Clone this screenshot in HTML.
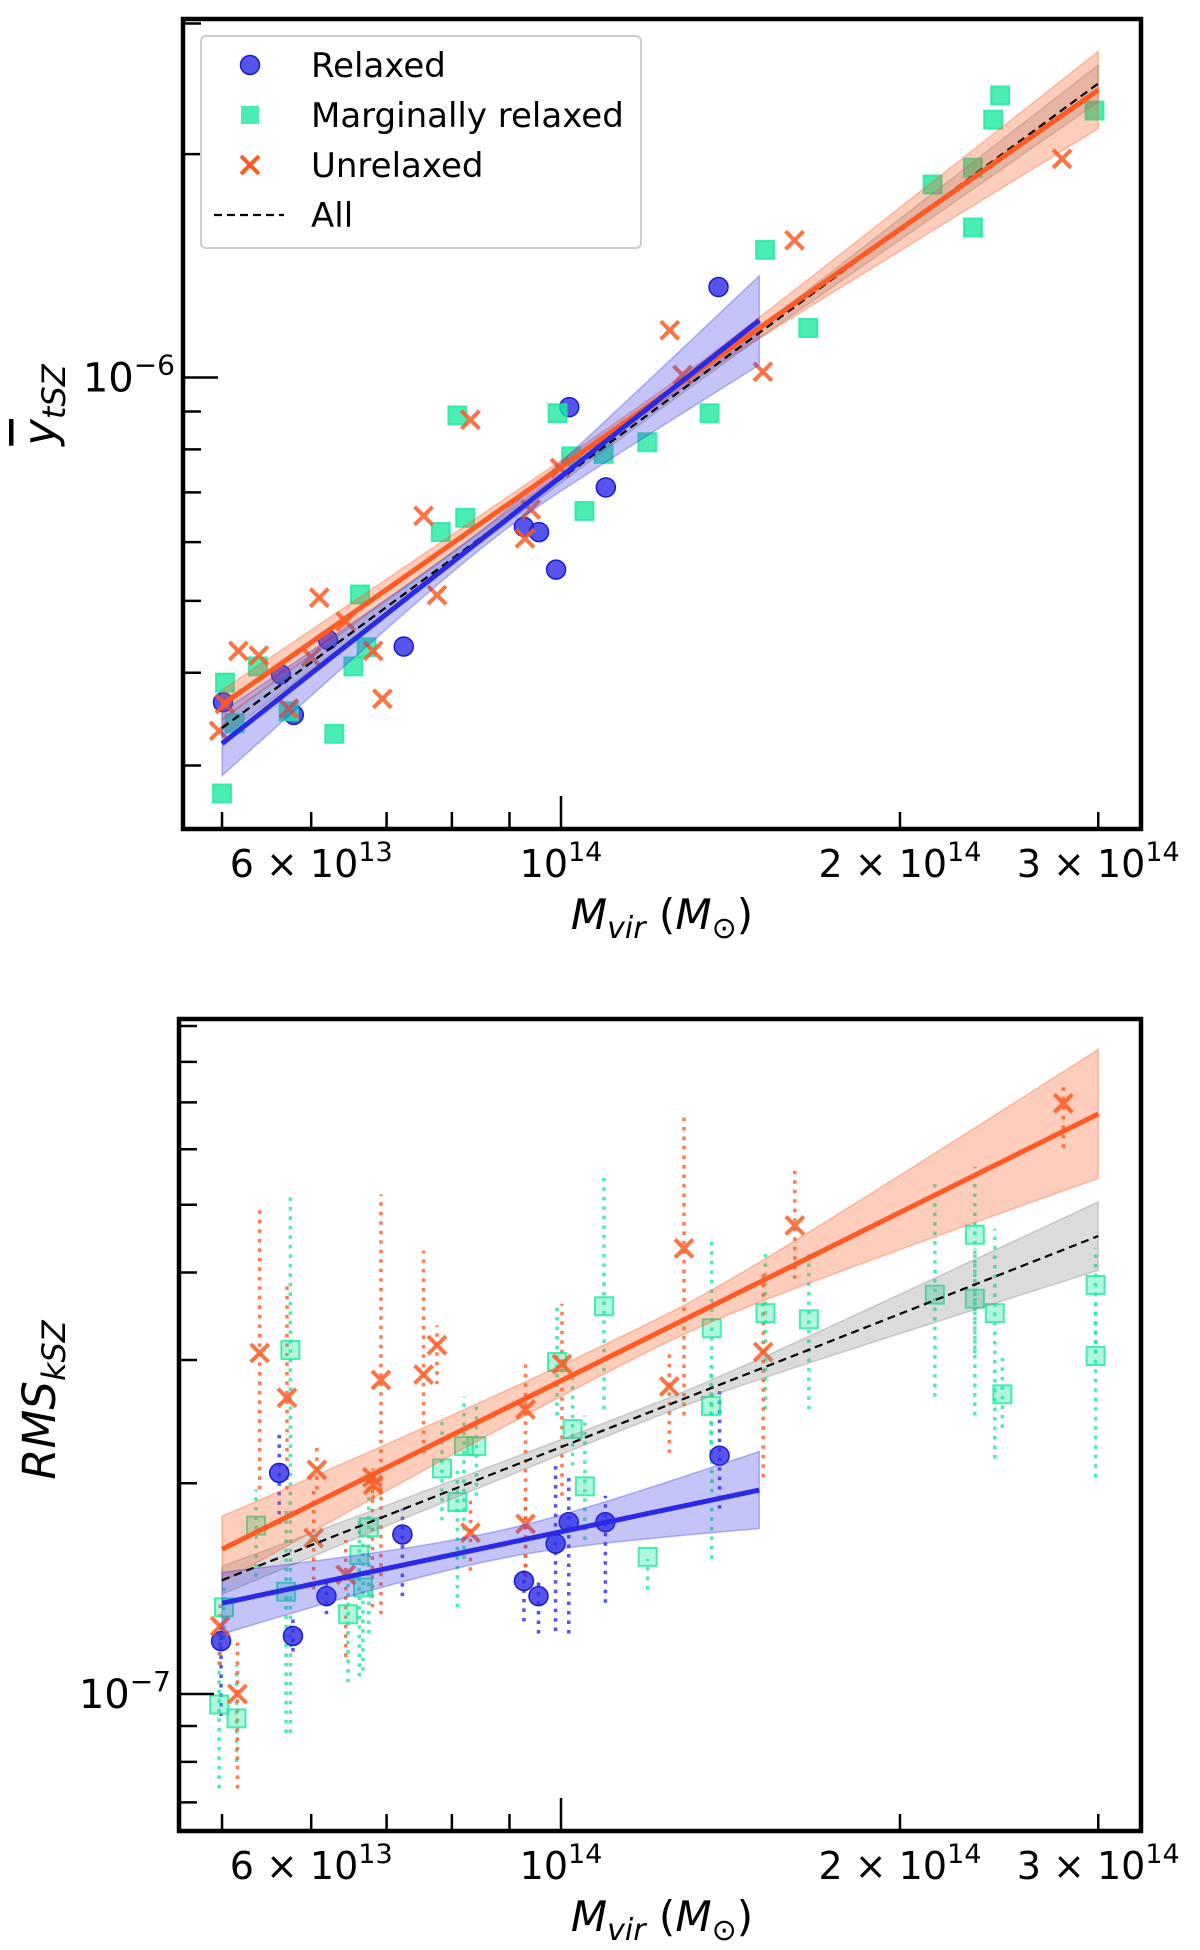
<!DOCTYPE html>
<html><head><meta charset="utf-8"><style>
html,body{margin:0;padding:0;background:#fff;}
svg{display:block;font-family:"DejaVu Sans","Liberation Sans",sans-serif;}
</style></head><body>
<svg id="fig" width="1200" height="1950" viewBox="0 0 1200 1950" xmlns="http://www.w3.org/2000/svg">
<rect width="1200" height="1950" fill="#fff"/>
<g id="top"></g>
<g id="bot"></g>
</svg>
<script>
// ---------- data (mass in 1e13 Msun, values in 1e-7) ----------
const tRelM = [5.01,5.79,5.64,6.21,7.25,9.27,9.56,9.9,10.17,10.96,13.8];
const tRelV = [3.65,3.51,3.98,4.43,4.34,6.29,6.19,5.51,9.12,7.11,13.24];
const tMarM = [5.03,5.0,5.13,5.38,5.73,6.29,6.54,6.63,6.72,7.82,8.09,8.22,9.93,10.21,10.49,10.91,11.93,13.55,15.18,16.58,21.38,23.22,23.22,24.2,24.55,29.77];
const tMarV = [3.88,2.75,3.42,4.08,3.55,3.31,4.08,5.10,4.33,6.19,8.89,6.47,8.95,7.83,6.61,7.89,8.18,8.95,14.86,11.66,18.2,19.18,15.93,22.26,24.0,22.9];
const tUnrM = [4.97,5.03,5.17,5.39,5.73,6.0,6.1,6.44,6.81,6.94,7.55,7.76,8.31,9.29,9.4,9.98,12.49,12.82,15.11,16.12,27.86];
const tUnrV = [3.34,3.63,4.28,4.22,3.58,4.20,5.05,4.69,4.28,3.69,6.51,5.09,8.77,6.07,6.64,7.55,11.58,10.08,10.18,15.31,19.71];
const tFitRel = [5,15,3.21,11.94,0.043,0.012,0.06];
const tFitUnr = [5,30,3.62,24.4,0.02,0.008,0.052];
const tFitAll = [5,30,3.37,24.9,0.012,0.005,0.025];

const bRelM = [4.99,5.62,5.78,6.19,7.23,9.27,9.55,9.89,10.16,10.95,13.83];
const bRelV = [1.19,2.07,1.21,1.38,1.69,1.45,1.38,1.64,1.76,1.76,2.19];
const bRelLo = [0.93,1.75,1.15,1.30,1.38,1.27,1.22,1.23,1.22,1.35,1.84];
const bRelHi = [1.25,2.35,1.30,1.45,1.84,1.53,1.47,2.12,2.04,1.92,2.77];
const bUnrM = [4.98,5.16,5.40,5.71,6.03,6.07,6.44,6.80,6.81,6.92,7.55,7.76,8.31,9.30,9.30,10.02,12.48,12.86,15.12,16.13,27.93];
const bUnrV = [1.25,1.00,3.07,2.65,1.67,2.09,1.48,2.04,1.99,2.81,2.86,3.15,1.70,2.55,1.75,2.96,2.75,4.33,3.08,4.67,6.98];
const bUnrLo = [1.10,0.733,1.96,1.96,1.41,1.96,1.13,1.33,1.90,1.30,2.21,2.77,1.50,1.47,1.47,1.92,2.21,2.50,2.04,3.92,6.03];
const bUnrHi = [1.35,1.185,4.91,3.84,1.96,2.26,1.66,2.08,2.10,5.17,4.30,3.36,1.92,2.98,1.92,3.61,3.07,6.68,4.00,5.67,7.39];
const bMarM = [4.97,5.15,5.02,5.36,5.75,5.70,6.47,6.62,6.67,6.75,7.84,8.09,8.20,8.41,9.92,10.24,10.50,10.92,11.94,13.61,13.59,15.19,16.60,21.48,23.31,23.31,24.28,24.66,29.84,29.84];
const bMarV = [0.966,0.923,1.33,1.74,3.10,1.40,1.30,1.58,1.42,1.73,2.10,1.88,2.26,2.26,2.98,2.39,1.98,3.58,1.57,3.33,2.58,3.50,3.43,3.72,4.53,3.67,3.50,2.68,3.84,3.04];
const bMarLo = [0.733,0.80,1.20,1.47,0.88,0.88,1.04,1.06,1.08,1.22,1.77,1.33,1.56,1.92,2.50,2.12,1.66,2.55,1.41,1.56,2.21,2.55,2.55,2.66,2.50,3.07,2.17,2.40,3.07,2.04];
const bMarHi = [1.22,1.10,1.44,1.96,5.17,1.84,1.50,1.77,1.66,2.04,2.50,2.12,2.66,2.60,3.61,2.83,2.50,5.55,1.56,4.43,2.95,4.34,4.34,5.44,5.67,4.34,4.62,3.07,4.34,3.61];
const bFitRel = [5,15,1.348,1.956,0.044,0.02,0.055];
const bFitUnr = [5,30,1.61,6.74,0.047,0.02,0.092];
const bFitAll = [5,30,1.454,4.51,0.02,0.01,0.049];

const xTickMinor = [5,6,7,8,9,20,30];
const xTickMajor = [10];
const xTickLabels = [["6","13",6],["","14",10],["2","14",20],["3","14",30]];
const tYMinor = [3,4,5,6,7,8,9,20,30];
const tYMajor = [10];
const bYMinor = [0.7,0.8,0.9,2,3,4,5,6,7,8,9];
const bYMajor = [1];

const NS = "http://www.w3.org/2000/svg";
const BLUE = "#2a2ae6", GREEN = "#1ee8a0", ORANGE = "#ff5a22";
function el(tag, attrs, parent){
  const e = document.createElementNS(NS, tag);
  for (const k in attrs) e.setAttribute(k, attrs[k]);
  parent.appendChild(e); return e;
}
function panel(gid, frame, x0, yOff, ySc, yRef, d){
  const g = document.getElementById(gid);
  const X = m => x0 + 1126*Math.log10(m/10);
  const Y = v => yOff - ySc*Math.log10(v/yRef);
  const clipId = gid+"clip";
  const defs = el("defs",{},g);
  const cp = el("clipPath",{id:clipId},defs);
  el("rect",{x:frame.l,y:frame.t,width:frame.r-frame.l,height:frame.b-frame.t},cp);
  const plot = el("g",{"clip-path":"url(#"+clipId+")"},g);
  
  

  if (d.err){
    d.err.forEach(s=>{
      s.m.forEach((m,i)=>{
        const ln = el("line",{x1:X(m),x2:X(m),y1:Y(s.lo[i]),y2:Y(s.hi[i]),stroke:s.c,"stroke-width":3.5,"stroke-dasharray":"3.5,6",opacity:0.8},plot);
        
        
      });
    });
  }
  d.rel[0].forEach((m,i)=>{
    const c = el("circle",{cx:X(m),cy:Y(d.rel[1][i]),r:9.5,fill:BLUE,"fill-opacity":0.8,stroke:"#1a1ad0","stroke-width":1.5},plot);
    
    
  });
  d.mar[0].forEach((m,i)=>{
    const s = el("rect",{x:X(m)-9,y:Y(d.mar[1][i])-9,width:18,height:18,fill:GREEN,"fill-opacity":d.hollow?0.35:0.8,stroke:GREEN,"stroke-width":2,"stroke-opacity":0.8},plot);
    
    
  });
  d.unr[0].forEach((m,i)=>{
    const cx=X(m), cy=Y(d.unr[1][i]);
    const p = el("path",{d:`M${cx-9} ${cy-9}L${cx+9} ${cy+9}M${cx-9} ${cy+9}L${cx+9} ${cy-9}`,stroke:ORANGE,"stroke-width":4,opacity:0.85},plot);
    
    
  });
  d.fits.forEach(f=>{
    const [mL,mR,vL,vR,wL,w0,wR] = f.p;
    const lxL=Math.log10(mL), lxR=Math.log10(mR), lyL=Math.log10(vL), lyR=Math.log10(vR);
    const lp=(lxL+lxR)/2, hr=(lxR-lxL)/2;
    const up=[], dn=[];
    for(let k=0;k<=40;k++){
      const lx = lxL+(lxR-lxL)*k/40;
      const ly = lyL+(lyR-lyL)*(lx-lxL)/(lxR-lxL);
      const we = lx<lp?wL:wR;
      const t=(lx-lp)/hr;
      const w=Math.sqrt(w0*w0+(we*we-w0*w0)*t*t);
      up.push([X(Math.pow(10,lx)),Y(Math.pow(10,ly+w))]);
      dn.push([X(Math.pow(10,lx)),Y(Math.pow(10,ly-w))]);
    }
    const pts = up.concat(dn.reverse()).map(q=>q.join(",")).join(" ");
    const band = el("polygon",{points:pts,fill:f.c,"fill-opacity":0.3,stroke:f.c,"stroke-opacity":0.35,"stroke-width":1.5},plot);
    
    
  });
  d.fits.forEach(f=>{
    const [mL,mR,vL,vR] = f.p;
    const ln = el("line",{x1:X(mL),y1:Y(vL),x2:X(mR),y2:Y(vR),stroke:f.lc,"stroke-width":f.dash?2.2:5,"stroke-dasharray":f.dash?"8,5":"none"},plot);
    
    
  });
  const fr = el("rect",{x:frame.l,y:frame.t,width:frame.r-frame.l,height:frame.b-frame.t,fill:"none",stroke:"#000","stroke-width":4.5},g);
  
  
  xTickMinor.forEach(m=>{ const t=el("line",{x1:X(m),x2:X(m),y1:frame.b,y2:frame.b-17,stroke:"#000","stroke-width":2.5},g);
    
    });
  xTickMajor.forEach(m=>{ const t=el("line",{x1:X(m),x2:X(m),y1:frame.b,y2:frame.b-33,stroke:"#000","stroke-width":2.5},g);
    
    });
  xTickLabels.forEach(l=>{
    const tx = el("text",{x:X(l[2]),y:frame.b+48,"text-anchor":"middle","font-size":38,fill:"#000"},g);
    
    
    const a=el("tspan",{},tx); a.textContent = l[0] ? l[0]+" \u00d7 10" : "10";
    const s=el("tspan",{dy:-16,"font-size":27},tx); s.textContent=l[1];
  });
  d.yMinor.forEach(v=>{ const y=Y(v); if(y<frame.t||y>frame.b) return;
    const t=el("line",{x1:frame.l,x2:frame.l+18,y1:y,y2:y,stroke:"#000","stroke-width":2.5},g);
    
    });
  d.yMajor.forEach(v=>{ const y=Y(v);
    const t=el("line",{x1:frame.l,x2:frame.l+35,y1:y,y2:y,stroke:"#000","stroke-width":2.5},g);
    
    
    const tx=el("text",{x:frame.l-8,y:y+14,"text-anchor":"end","font-size":40},g);
    
    
    const a=el("tspan",{},tx); a.textContent="10";
    const s=el("tspan",{dy:-17,"font-size":28},tx); s.textContent=d.yExp;
  });
  const xl = el("text",{x:662,y:frame.b+100,"text-anchor":"middle","font-size":42},g);
  
  
  [["M",{"font-style":"italic"}],["vir",{"font-style":"italic","font-size":30,dy:9}],[" (",{dy:-9}],["M",{"font-style":"italic"}],["\u2299",{"font-size":30,dy:9}],[")",{dy:-9}]].forEach(p=>{
    const s=el("tspan",p[1],xl); s.textContent=p[0];
  });
  const yl = el("text",{x:0,y:0,"text-anchor":"middle","font-size":45,transform:`translate(${d.ylx},${d.yly}) rotate(-90)`},g);
  
  
  d.ylabel.forEach(p=>{ const s=el("tspan",p[1],yl); s.textContent=p[0]; });
}

panel("top",{l:183,t:19,r:1141,b:829},561,377.5,742,10,{
  rel:[tRelM,tRelV], mar:[tMarM,tMarV], unr:[tUnrM,tUnrV],
  fits:[{p:tFitAll,c:"#888",lc:"#000",dash:true,name:"all"},{p:tFitUnr,c:ORANGE,lc:ORANGE,name:"unrelaxed"},{p:tFitRel,c:"#3c3ce8",lc:BLUE,name:"relaxed"}],
  yMinor:tYMinor, yMajor:tYMajor, yExp:"\u22126", ylx:55, yly:405,
  ylabel:[["y",{"font-style":"italic","text-decoration":"overline"}],["tSZ",{"font-style":"italic","font-size":32,dy:10}]]
});
panel("bot",{l:179,t:1019,r:1141,b:1831},561,1694,700,1,{
  rel:[bRelM,bRelV], mar:[bMarM,bMarV], unr:[bUnrM,bUnrV], hollow:true,
  err:[{m:bMarM,lo:bMarLo,hi:bMarHi,c:GREEN},{m:bUnrM,lo:bUnrLo,hi:bUnrHi,c:ORANGE},{m:bRelM,lo:bRelLo,hi:bRelHi,c:BLUE}],
  fits:[{p:bFitAll,c:"#888",lc:"#000",dash:true,name:"all"},{p:bFitUnr,c:ORANGE,lc:ORANGE,name:"unrelaxed"},{p:bFitRel,c:"#3c3ce8",lc:BLUE,name:"relaxed"}],
  yMinor:bYMinor, yMajor:bYMajor, yExp:"\u22127", ylx:55, yly:1400,
  ylabel:[["RMS",{"font-style":"italic"}],["kSZ",{"font-style":"italic","font-size":32,dy:10}]]
});

const topPanel = document.getElementById("top");
const lg = el("g",{},topPanel);


el("rect",{x:201,y:36,width:440,height:212,rx:5,fill:"#fff","fill-opacity":0.85,stroke:"#ccc","stroke-width":2},lg);
const entries = [["Relaxed",65],["Marginally relaxed",115],["Unrelaxed",165],["All",215]];
el("circle",{cx:250,cy:65,r:9.5,fill:BLUE,"fill-opacity":0.8,stroke:"#1a1ad0","stroke-width":1.5},lg);
el("rect",{x:241,y:106,width:18,height:18,fill:GREEN,"fill-opacity":0.8},lg);
el("path",{d:"M241 156L259 174M241 174L259 156",stroke:ORANGE,"stroke-width":4},lg);
el("line",{x1:214,x2:284,y1:215,y2:215,stroke:"#000","stroke-width":2.2,"stroke-dasharray":"8,5"},lg);
entries.forEach(e=>{
  const t = el("text",{x:311,y:e[1]+12,"font-size":34},lg);
  
  
  t.textContent=e[0];
});
</script>
</body></html>
